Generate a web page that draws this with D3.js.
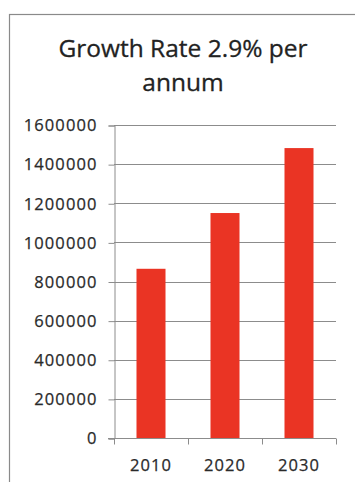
<!DOCTYPE html>
<html>
<head>
<meta charset="utf-8">
<script src="https://cdn.jsdelivr.net/npm/d3@7"></script>
<style>
  html, body { margin: 0; padding: 0; background: #fff; }
  svg { display: block; }
  .tick-lbl { font-family: "Open Sans", sans-serif; font-size: 16.5px; fill: #2a2a2a; stroke: #2a2a2a; stroke-width: 0.25px; letter-spacing: 1.1px; }
  .title { font-family: "Open Sans", sans-serif; font-size: 24.5px; fill: #222; stroke: #222; stroke-width: 0.3px; }
</style>
</head>
<body>
<div id="chart"></div>
<script>
const titleLines = ['Growth Rate 2.9% per', 'annum'];
const years = ['2010', '2020', '2030'];
const population = [865000, 1150000, 1482000];
const yTicks = [0, 200000, 400000, 600000, 800000, 1000000, 1200000, 1400000, 1600000];

const W = 355, H = 482;
const m = { left: 114, right: 336, top: 125, bottom: 438 };

const svg = d3.select('#chart').append('svg').attr('width', W).attr('height', H);

// chart area frame (runs off the right and bottom edges)
svg.append('rect')
  .attr('x', 9.5).attr('y', 14.5).attr('width', 400).attr('height', 500)
  .attr('fill', '#fff').attr('stroke', '#8a8a8a').attr('stroke-width', 1.2);

svg.selectAll('.title').data(titleLines).join('text')
  .attr('class', 'title')
  .attr('x', 183).attr('y', (d, i) => 57 + i * 34)
  .attr('text-anchor', 'middle')
  .text(d => d);

const x = d3.scaleBand().domain(years).range([m.left, m.right])
  .paddingInner(0.608).paddingOuter(0.304);
const y = d3.scaleLinear().domain([0, 1600000]).range([m.bottom, m.top]);

// gridlines
svg.append('g').selectAll('line').data(yTicks.filter(d => d > 0)).join('line')
  .attr('x1', m.left).attr('x2', m.right)
  .attr('y1', d => Math.round(y(d)) + 0.5).attr('y2', d => Math.round(y(d)) + 0.5)
  .attr('stroke', '#8c8c8c').attr('stroke-width', 1);

svg.selectAll('.bar').data(years).join('rect')
  .attr('class', 'bar')
  .attr('x', d => x(d)).attr('y', (d, i) => y(population[i]))
  .attr('width', x.bandwidth())
  .attr('height', (d, i) => y(0) - y(population[i]))
  .attr('fill', '#ea3424');

// y axis
const yAxis = d3.axisLeft(y).tickValues(yTicks).tickSize(6).tickPadding(11).tickFormat(d3.format('d'));
const gy = svg.append('g').attr('transform', `translate(${m.left + 0.5},0.5)`).call(yAxis);
gy.select('.domain').attr('stroke', '#8c8c8c');
gy.selectAll('.tick line').attr('stroke', '#8c8c8c');
gy.selectAll('.tick text').attr('class', 'tick-lbl').attr('font-family', null).attr('font-size', null);

// x axis with category boundary ticks
const gx = svg.append('g').attr('transform', `translate(0,${m.bottom + 0.5})`);
gx.append('line').attr('x1', m.left - 6).attr('x2', m.right).attr('stroke', '#8c8c8c');
const bounds = years.map(d => x(d) - (x.step() - x.bandwidth()) / 2).concat([m.right]);
gx.selectAll('.bt').data(bounds).join('line')
  .attr('x1', d => Math.round(d) + 0.5).attr('x2', d => Math.round(d) + 0.5)
  .attr('y1', 0).attr('y2', 6).attr('stroke', '#8c8c8c');
gx.selectAll('.xl').data(years).join('text')
  .attr('class', 'tick-lbl')
  .attr('x', d => x(d) + x.bandwidth() / 2).attr('y', 32)
  .attr('text-anchor', 'middle')
  .text(d => d);
</script>
</body>
</html>
